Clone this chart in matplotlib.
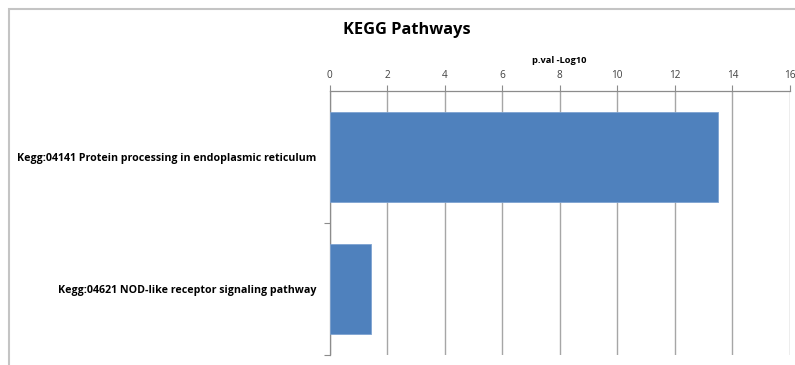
import matplotlib.pyplot as plt
from matplotlib.patches import Rectangle

pathways = ['Kegg:04141 Protein processing in endoplasmic reticulum',
            'Kegg:04621 NOD-like receptor signaling pathway']
neg_log10_p = [13.5, 1.44]

W, H = 795, 365
fig = plt.figure(figsize=(W / 100, H / 100), dpi=100)
plt.rcParams['font.family'] = ['Open Sans', 'DejaVu Sans']

# chart area frame
fig.patches.append(Rectangle((9 / W, -0.1), 1.2, (H - 9) / H + 0.1,
                             transform=fig.transFigure, fill=False,
                             edgecolor='#c4c4c4', linewidth=1.5))

ax = fig.add_axes([329.5 / W, (H - 355) / H, (790 - 329.5) / W, (355 - 91) / H])

y = range(len(pathways))
ax.barh(y, neg_log10_p, height=0.68, color='#4f81bd', edgecolor='#7ea3d2',
        linewidth=0.6, zorder=3)
ax.set_ylim(len(pathways) - 0.5, -0.5)
ax.set_xlim(0, 16)
ax.set_xticks(range(0, 17, 2))

ax.xaxis.tick_top()
ax.xaxis.set_label_position('top')
ax.set_xlabel('p.val -Log10', fontsize=6.7, fontweight='bold', labelpad=5)
ax.tick_params(axis='x', direction='out', length=4, width=0.8, color='#8c8c8c',
               labelsize=7.2, pad=3, labelcolor='#404040')
ax.grid(axis='x', color='#a6a6a6', linewidth=1, zorder=0)

ax.set_yticks(y)
ax.set_yticklabels(pathways, fontsize=7.7, fontweight='bold')
ax.set_yticks([0.5, 1.5], minor=True)
ax.tick_params(axis='y', which='major', length=0, pad=9.5)
ax.tick_params(axis='y', which='minor', direction='out', length=4, width=0.8,
               color='#8c8c8c')

for side in ['right', 'bottom']:
    ax.spines[side].set_visible(False)
for side in ['top', 'left']:
    ax.spines[side].set_color('#8c8c8c')
    ax.spines[side].set_linewidth(0.9)

fig.text(407 / W, 1 - 30 / H, 'KEGG Pathways', ha='center', va='center',
         fontsize=11.8, fontweight='bold')

fig.savefig('out.png', dpi=100)
